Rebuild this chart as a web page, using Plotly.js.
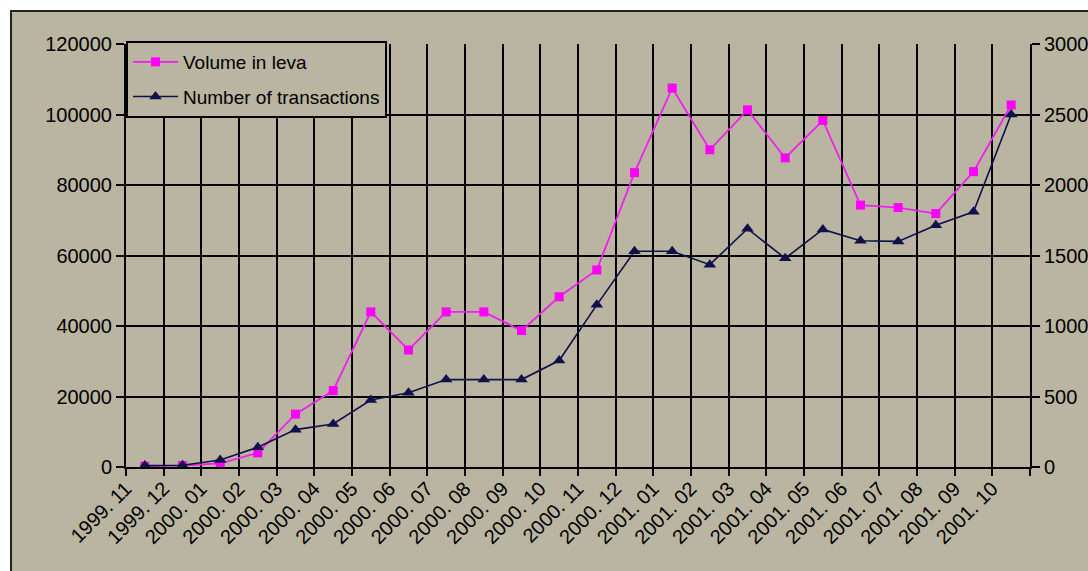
<!DOCTYPE html>
<html>
<head>
<meta charset="utf-8">
<script src="https://cdn.plot.ly/plotly-3.0.1.min.js"></script>
<style>
  html, body { margin: 0; padding: 0; background: #ffffff; }
  #chart { width: 1088px; height: 571px; }
</style>
</head>
<body>
<div id="chart"></div>
<script>
const categories = [
  '1999. 11', '1999. 12',
  '2000. 01', '2000. 02', '2000. 03', '2000. 04', '2000. 05', '2000. 06',
  '2000. 07', '2000. 08', '2000. 09', '2000. 10', '2000. 11', '2000. 12',
  '2001. 01', '2001. 02', '2001. 03', '2001. 04', '2001. 05', '2001. 06',
  '2001. 07', '2001. 08', '2001. 09', '2001. 10'
];
const volumeLeva = [
  200, 400, 1000, 4000, 15000, 21700, 44000, 33200, 44000, 44000, 38700, 48300,
  55900, 83500, 107500, 90000, 101300, 87700, 98300, 74300, 73600, 71900, 83800, 102700
];
const transactions = [
  10, 12, 50, 140, 265, 305, 475, 527, 620, 620, 620, 755,
  1150, 1530, 1530, 1435, 1690, 1480, 1685, 1605, 1600, 1715, 1810, 2500
];
const leftTicks = [0, 20000, 40000, 60000, 80000, 100000, 120000];
const rightTicks = [0, 500, 1000, 1500, 2000, 2500, 3000];

const BG = '#b9b5a0';
const FONT = 'Liberation Sans, Arial, sans-serif';

const traces = [
  {
    x: categories, y: volumeLeva, name: 'Volume in leva', type: 'scatter',
    mode: 'lines+markers', legendgroup: 'a',
    line: { color: '#f020f0', width: 1.8 },
    marker: { symbol: 'square', size: 9, color: '#ff00ff' }
  },
  {
    x: categories, y: transactions, name: 'Number of transactions', type: 'scatter',
    mode: 'lines+markers', yaxis: 'y2', legendgroup: 'b',
    line: { color: '#10104a', width: 1.6 },
    marker: { symbol: 'triangle-up', size: 11, color: '#10104a' }
  }
];

// pixel -> paper helpers (plot area 126..1030 x, 44..467 y)
const px = v => (v - 126) / 904;
const py = v => (467 - v) / 423;

const layout = {
  width: 1088, height: 571,
  paper_bgcolor: BG, plot_bgcolor: BG,
  margin: { l: 126, r: 58, t: 44, b: 104 },
  font: { family: FONT, size: 19, color: '#000' },
  showlegend: true,
  legend: {
    x: 0, y: py(41), xanchor: 'left', yanchor: 'top',
    bgcolor: BG, bordercolor: '#000', borderwidth: 2,
    font: { family: FONT, size: 19, color: '#000' },
    traceorder: 'grouped', tracegroupgap: 7, itemwidth: 45
  },
  xaxis: {
    type: 'category', tickson: 'boundaries', range: [-0.5, 23.5],
    showgrid: true, gridcolor: '#000', gridwidth: 2,
    ticks: 'outside', ticklen: 7, tickcolor: '#000', tickwidth: 2,
    showline: true, linecolor: '#000', linewidth: 2,
    tickangle: -45, ticklabelshift: -19,
    tickfont: { family: FONT, size: 20, color: '#000' },
    fixedrange: true
  },
  yaxis: {
    range: [0, 120000], tickvals: leftTicks, tickformat: 'd',
    showgrid: true, gridcolor: '#000', gridwidth: 2, zeroline: false,
    ticks: 'outside', ticklen: 8, tickcolor: '#000', tickwidth: 2,
    showline: true, linecolor: '#000', linewidth: 2,
    tickfont: { family: FONT, size: 20, color: '#000' },
    fixedrange: true
  },
  yaxis2: {
    range: [0, 3000], tickvals: rightTicks, tickformat: 'd',
    overlaying: 'y', side: 'right',
    showgrid: false, zeroline: false,
    ticks: 'outside', ticklen: 8, tickcolor: '#000', tickwidth: 2,
    showline: true, linecolor: '#000', linewidth: 2,
    tickfont: { family: FONT, size: 20, color: '#000' },
    fixedrange: true
  },
  shapes: [
    { type: 'rect', xref: 'paper', yref: 'paper', layer: 'above',
      x0: px(-2), x1: px(10), y0: py(575), y1: py(-2),
      fillcolor: '#ffffff', line: { width: 0 } },
    { type: 'rect', xref: 'paper', yref: 'paper', layer: 'above',
      x0: px(-2), x1: px(1092), y0: py(10), y1: py(-2),
      fillcolor: '#ffffff', line: { width: 0 } },
    { type: 'line', xref: 'paper', yref: 'paper', layer: 'above',
      x0: px(11), x1: px(11), y0: py(575), y1: py(10),
      line: { color: '#222', width: 2 } },
    { type: 'line', xref: 'paper', yref: 'paper', layer: 'above',
      x0: px(10), x1: px(1092), y0: py(11), y1: py(11),
      line: { color: '#222', width: 2 } }
  ]
};

Plotly.newPlot('chart', traces, layout, { displayModeBar: false, staticPlot: true });
</script>
</body>
</html>
